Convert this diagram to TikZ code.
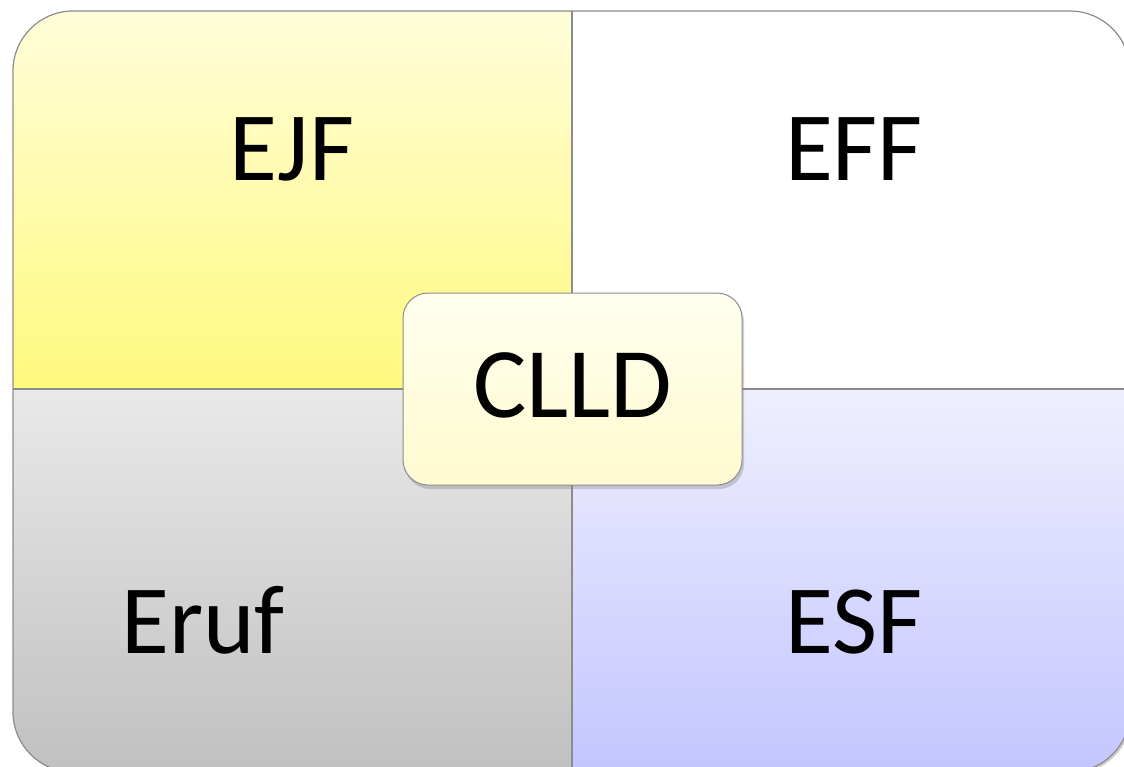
\documentclass[tikz,border=0pt]{standalone}
\usepackage{fontspec}
\setmainfont{Carlito}
\usetikzlibrary{shadows}
\definecolor{ejftop}{HTML}{FFFDDA}
\definecolor{ejfbot}{HTML}{FFF97E}
\definecolor{erutop}{HTML}{E9E9E9}
\definecolor{erubot}{HTML}{C0C0C0}
\definecolor{esftop}{HTML}{EFEFFF}
\definecolor{esfbot}{HTML}{C3C5FF}
\definecolor{clldtop}{HTML}{FFFFEE}
\definecolor{clldbot}{HTML}{FFFAD0}
\definecolor{edge}{HTML}{8C8C8C}
\tikzset{
  lbl/.style={font=\fontsize{98}{98}\selectfont, anchor=base, inner sep=0pt},
  hubbox/.style={draw=edge, line width=1pt, rounded corners=25pt,
    top color=clldtop, bottom color=clldbot,
    minimum width=339pt, minimum height=192pt, text depth=8pt,
    font=\fontsize{100}{100}\selectfont,
    drop shadow={shadow xshift=2pt, shadow yshift=-4pt, opacity=0.35}},
}

\begin{document}
\begin{tikzpicture}[x=1pt,y=-1pt]
  \useasboundingbox (0,0) rectangle (1124,766);
  \clip (0,0) rectangle (1124,766);
  % outer shadow
  \fill[black!20, rounded corners=60pt] (15,13) rectangle (1132,774);
  % quadrants
  \begin{scope}
    \clip[rounded corners=60pt] (13,11) rectangle (1130,772);
    \shade[top color=ejftop, bottom color=ejfbot] (13,11) rectangle (572,389);
    \fill[white] (572,11) rectangle (1130,389);
    \shade[top color=erutop, bottom color=erubot] (13,389) rectangle (572,772);
    \shade[top color=esftop, bottom color=esfbot] (572,389) rectangle (1130,772);
  \end{scope}
  \draw[edge, line width=1.2pt, rounded corners=60pt] (13,11) rectangle (1130,772);
  % dividers
  \coordinate (top) at (572,11);
  \coordinate (bot) at (572,772);
  \coordinate (lft) at (13,389);
  \coordinate (rgt) at (1130,389);
  \draw[edge, line width=1.2pt] (top) -- (bot);
  \draw[edge, line width=1.2pt] (lft) -- (rgt);
  % labels
  \node[lbl] (ejf)  at (292,180) {EJF};
  \node[lbl] (eff)  at (854,180) {EFF};
  \node[lbl] (eruf) at (203,653) {Eruf};
  \node[lbl] (esf)  at (854,653) {ESF};
  % centre
  \node[hubbox] (clld) at (572.5,389) {CLLD};
\end{tikzpicture}
\end{document}
